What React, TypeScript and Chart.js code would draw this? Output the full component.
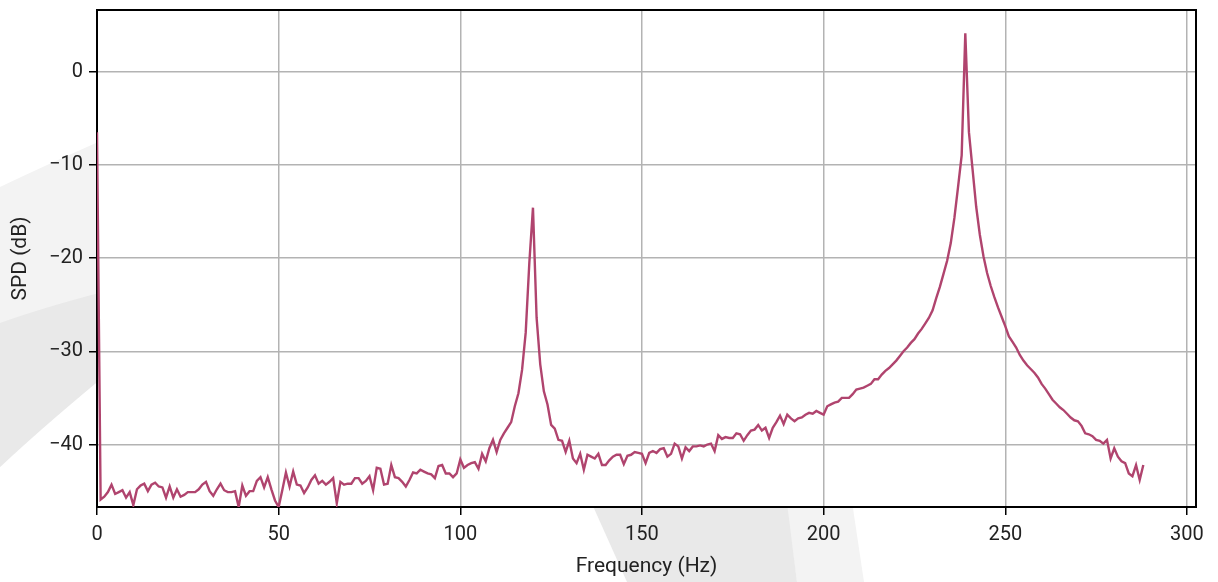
import React, { useEffect, useRef } from 'react';
import { Chart, registerables } from 'chart.js';

Chart.register(...registerables);

const freqHz = [
  0, 1, 2, 3, 4, 5, 6, 7, 8, 9, 10, 11, 12, 13, 14, 15, 16, 17, 18, 19,
  20, 21, 22, 23, 24, 25, 26, 27, 28, 29, 30, 31, 32, 33, 34, 35, 36, 37, 38, 39,
  40, 41, 42, 43, 44, 45, 46, 47, 48, 49, 50, 51, 52, 53, 54, 55, 56, 57, 58, 59,
  60, 61, 62, 63, 64, 65, 66, 67, 68, 69, 70, 71, 72, 73, 74, 75, 76, 77, 78, 79,
  80, 81, 82, 83, 84, 85, 86, 87, 88, 89, 90, 91, 92, 93, 94, 95, 96, 97, 98, 99,
  100, 101, 102, 103, 104, 105, 106, 107, 108, 109, 110, 111, 112, 113, 114, 115, 116, 117, 118, 119,
  120, 121, 122, 123, 124, 125, 126, 127, 128, 129, 130, 131, 132, 133, 134, 135, 136, 137, 138, 139,
  140, 141, 142, 143, 144, 145, 146, 147, 148, 149, 150, 151, 152, 153, 154, 155, 156, 157, 158, 159,
  160, 161, 162, 163, 164, 165, 166, 167, 168, 169, 170, 171, 172, 173, 174, 175, 176, 177, 178, 179,
  180, 181, 182, 183, 184, 185, 186, 187, 188, 189, 190, 191, 192, 193, 194, 195, 196, 197, 198, 199,
  200, 201, 202, 203, 204, 205, 206, 207, 208, 209, 210, 211, 212, 213, 214, 215, 216, 217, 218, 219,
  220, 221, 222, 223, 224, 225, 226, 227, 228, 229, 230, 231, 232, 233, 234, 235, 236, 237, 238, 239,
  240, 241, 242, 243, 244, 245, 246, 247, 248, 249, 250, 251, 252, 253, 254, 255, 256, 257, 258, 259,
  260, 261, 262, 263, 264, 265, 266, 267, 268, 269, 270, 271, 272, 273, 274, 275, 276, 277, 278, 279,
  280, 281, 282, 283, 284, 285, 286, 287, 288,
];

const spdDb = [
  -6.5, -45.9, -45.6, -45.1, -44.3, -45.3, -45.1, -44.9, -45.7, -45.1,
  -46.5, -44.8, -44.4, -44.2, -45.0, -44.3, -44.1, -44.5, -44.6, -45.7,
  -44.5, -45.7, -44.8, -45.6, -45.4, -45.1, -45.1, -45.1, -44.8, -44.3,
  -44.0, -45.0, -45.5, -44.8, -44.2, -44.9, -45.1, -45.1, -45.0, -46.7,
  -44.4, -45.5, -45.0, -45.0, -43.9, -43.5, -44.6, -43.5, -44.8, -46.0,
  -46.7, -44.9, -43.0, -44.5, -42.9, -44.3, -44.4, -45.2, -44.6, -43.8,
  -43.3, -44.2, -43.9, -44.3, -44.0, -43.6, -46.3, -44.0, -44.3, -44.2,
  -44.2, -43.6, -43.6, -44.2, -43.9, -43.4, -44.9, -42.5, -42.6, -44.3,
  -44.2, -42.2, -43.5, -43.6, -44.0, -44.5, -43.8, -43.0, -43.1, -42.7,
  -42.9, -43.1, -43.2, -43.6, -42.3, -42.2, -43.1, -43.1, -43.5, -43.1,
  -41.6, -42.5, -42.2, -42.0, -41.9, -42.6, -41.0, -41.8, -40.4, -39.5,
  -40.8, -39.5, -38.8, -38.2, -37.6, -35.9, -34.5, -32.0, -28.0, -20.5,
  -14.6, -26.4, -31.4, -34.3, -35.7, -37.9, -38.3, -39.5, -39.6, -40.8,
  -39.6, -41.5, -42.0, -41.0, -42.7, -41.1, -41.3, -41.5, -41.0, -42.2,
  -42.2, -41.7, -41.3, -41.1, -41.1, -42.1, -41.2, -41.1, -40.8, -40.9,
  -41.0, -42.0, -40.9, -40.7, -40.9, -40.5, -40.4, -41.3, -41.0, -39.9,
  -40.2, -41.5, -40.3, -40.7, -40.2, -40.2, -40.1, -40.2, -40.0, -39.9,
  -40.7, -39.0, -39.4, -39.2, -39.3, -39.3, -38.8, -38.9, -39.6, -39.0,
  -38.5, -38.4, -37.9, -38.5, -38.2, -39.3, -38.2, -37.6, -36.9, -37.8,
  -36.8, -37.2, -37.5, -37.2, -37.1, -36.8, -36.6, -36.7, -36.4, -36.6,
  -36.8, -35.9, -35.7, -35.5, -35.4, -35.0, -35.0, -35.0, -34.6, -34.1,
  -34.0, -33.9, -33.7, -33.5, -33.0, -33.0, -32.5, -32.1, -31.8, -31.4,
  -31.0, -30.5, -30.0, -29.6, -29.1, -28.7, -28.1, -27.6, -27.0, -26.4,
  -25.6, -24.3, -23.1, -21.7, -20.3, -18.4, -15.7, -12.4, -9.0, 4.1,
  -6.5, -10.5, -14.5, -17.5, -19.8, -21.6, -23.0, -24.2, -25.3, -26.3,
  -27.3, -28.4, -29.0, -29.6, -30.4, -31.0, -31.5, -31.9, -32.3, -32.8,
  -33.5, -34.0, -34.6, -35.2, -35.6, -36.0, -36.3, -36.7, -37.1, -37.4,
  -37.5, -38.0, -38.8, -38.9, -39.1, -39.5, -39.6, -39.9, -39.5, -41.5,
  -40.4, -41.3, -41.8, -42.0, -43.1, -43.4, -42.2, -43.8, -42.2,
];

const xTicks = [0, 50, 100, 150, 200, 250, 300];
const yTicks = [0, -10, -20, -30, -40];
const xRange = [0, 302.5];
const yRange = [-46.7, 6.6];

const xTitle = 'Frequency (Hz)';
const yTitle = 'SPD (dB)';

const fmt = (v: number) => (v < 0 ? '\u2212' + Math.abs(v) : String(v));

const decorPlugin = {
  id: 'decor',
  beforeDraw(chart: any) {
    const ctx = chart.ctx;
    const a = chart.chartArea;
    ctx.save();
    ctx.fillStyle = '#ffffff';
    ctx.fillRect(0, 0, chart.width, chart.height);
    // watermark, left side
    ctx.fillStyle = '#f3f3f3';
    ctx.beginPath();
    ctx.moveTo(0, 187);
    ctx.quadraticCurveTo(50, 163, 130, 128);
    ctx.lineTo(130, 355);
    ctx.quadraticCurveTo(50, 420, 0, 467);
    ctx.closePath();
    ctx.fill();
    ctx.fillStyle = '#e9e9e9';
    ctx.beginPath();
    ctx.moveTo(0, 323);
    ctx.quadraticCurveTo(50, 305, 130, 285);
    ctx.lineTo(130, 355);
    ctx.quadraticCurveTo(50, 420, 0, 467);
    ctx.closePath();
    ctx.fill();
    // watermark, bottom
    ctx.fillStyle = '#f3f3f3';
    ctx.beginPath();
    ctx.moveTo(785, 495);
    ctx.lineTo(851, 495);
    ctx.lineTo(864, 582);
    ctx.lineTo(797, 582);
    ctx.closePath();
    ctx.fill();
    ctx.fillStyle = '#e9e9e9';
    ctx.beginPath();
    ctx.moveTo(588, 495);
    ctx.lineTo(786, 495);
    ctx.lineTo(797, 582);
    ctx.lineTo(627, 582);
    ctx.closePath();
    ctx.fill();
    ctx.fillStyle = '#ffffff';
    ctx.fillRect(a.left, a.top, a.right - a.left, a.bottom - a.top);
    ctx.restore();
  },
  beforeDatasetsDraw(chart: any) {
    const ctx = chart.ctx;
    const a = chart.chartArea;
    ctx.save();
    ctx.strokeStyle = '#000000';
    ctx.lineWidth = 2;
    ctx.strokeRect(a.left, a.top, a.right - a.left, a.bottom - a.top);
    ctx.restore();
  },
};

export default function App() {
  const ref = useRef<HTMLCanvasElement | null>(null);
  useEffect(() => {
    if (!ref.current) return;
    Chart.defaults.font.family = 'Roboto';
    const chart = new Chart(ref.current, {
      type: 'line',
      data: {
        datasets: [
          {
            data: freqHz.map((f, i) => ({ x: f, y: spdDb[i] })),
            borderColor: '#b0446e',
            borderWidth: 2.4,
            pointRadius: 0,
            tension: 0,
            fill: false,
          },
        ],
      },
      options: {
        animation: false,
        responsive: false,
        layout: { padding: { top: 10, right: 22, left: 0, bottom: 0 } },
        plugins: { legend: { display: false }, tooltip: { enabled: false } },
        scales: {
          x: {
            type: 'linear',
            min: xRange[0],
            max: xRange[1],
            afterBuildTicks: (s: any) => {
              s.ticks = xTicks.map((v) => ({ value: v }));
            },
            afterFit: (s: any) => {
              s.height = 75;
              s.paddingLeft = 0;
              s.paddingRight = 0;
            },
            border: { display: false },
            grid: {
              color: '#b3b3b3',
              lineWidth: 1.5,
              tickColor: '#000000',
              tickWidth: 1.5,
              tickLength: 8,
            },
            ticks: {
              color: '#222222',
              font: { size: 20 },
              padding: 8,
              maxRotation: 0,
              autoSkip: false,
              callback: (v: any) => fmt(Number(v)),
            },
            title: {
              display: true,
              text: xTitle,
              color: '#222222',
              font: { size: 21 },
              padding: { top: 0, bottom: 3 },
            },
          },
          y: {
            type: 'linear',
            min: yRange[0],
            max: yRange[1],
            afterBuildTicks: (s: any) => {
              s.ticks = yTicks.map((v) => ({ value: v }));
            },
            afterFit: (s: any) => {
              s.width = 97;
              s.paddingTop = 0;
              s.paddingBottom = 0;
            },
            border: { display: false },
            grid: {
              color: '#b3b3b3',
              lineWidth: 1.5,
              tickColor: '#000000',
              tickWidth: 1.5,
              tickLength: 8,
            },
            ticks: {
              color: '#222222',
              font: { size: 20 },
              padding: 6,
              autoSkip: false,
              callback: (v: any) => fmt(Number(v)),
            },
            title: {
              display: true,
              text: yTitle,
              color: '#222222',
              font: { size: 21 },
              padding: { top: 8, bottom: 0 },
            },
          },
        },
      },
      plugins: [decorPlugin],
    });
    return () => chart.destroy();
  }, []);
  return (
    <div style={{ position: 'fixed', left: 0, top: 0, width: 1218, height: 582 }}>
      <canvas ref={ref} width={1218} height={582} />
    </div>
  );
}
